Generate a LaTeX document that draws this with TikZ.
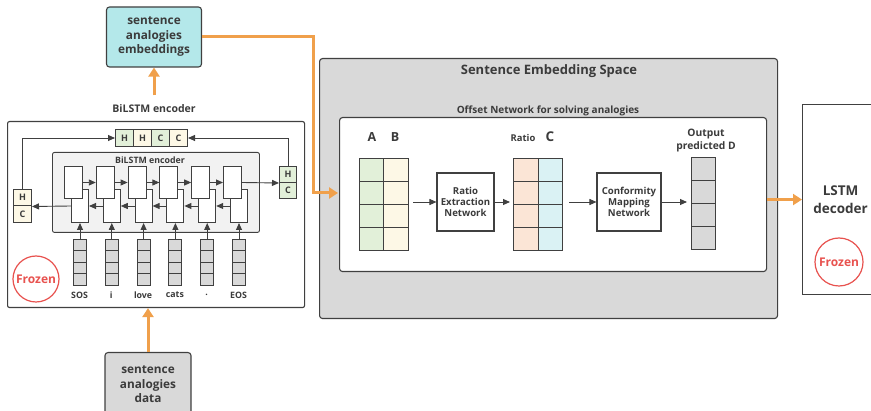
\documentclass[tikz,border=0pt]{standalone}
\usepackage{fontspec}
\setmainfont{Open Sans}
\usetikzlibrary{arrows.meta,calc}
\definecolor{tc}{HTML}{3B3B3B}
\definecolor{bc}{HTML}{404040}
\definecolor{orng}{HTML}{F0A04B}
\definecolor{cyanb}{HTML}{B4E8EA}
\definecolor{grayf}{HTML}{D9D9D9}
\definecolor{igray}{HTML}{F2F2F2}
\definecolor{lgreen}{HTML}{E2F0D9}
\definecolor{cream}{HTML}{FDF8E6}
\definecolor{peach}{HTML}{FBE5D6}
\definecolor{lcyan}{HTML}{DAF2F4}
\definecolor{fred}{HTML}{E8524F}
\newcommand{\fs}[1]{\fontsize{#1}{#1}\selectfont}
\begin{document}
\begin{tikzpicture}[x=1pt,y=-1pt,
  every node/.style={font=\bfseries, text=tc},
  box/.style={draw=bc, line width=1.1pt, inner sep=0pt},
  cell/.style={draw=bc, line width=1pt, fill=white, inner sep=0pt, minimum width=18pt, minimum height=32pt, anchor=north west},
  vc/.style={draw=bc, line width=1pt, inner sep=0pt, minimum height=23pt, anchor=north west},
  arr/.style={draw=bc, line width=0.9pt, -{Triangle[length=7pt,width=6pt]}},
  oarr/.style={draw=orng, line width=3pt, -{Triangle[length=9pt,width=11pt]}},
  frozen/.style={circle, draw=fred, line width=1.2pt, text=fred, inner sep=0pt, minimum size=#1, font=\bfseries\fs{12}},
]
\useasboundingbox (0,0) rectangle (871,411);

% ---------- left BiLSTM encoder ----------
\node[box, fill=white, rounded corners=2pt, minimum width=297pt, minimum height=186pt, anchor=north west] (enc) at (7,121) {};
\node[font=\bfseries\fs{10.5}] (enctitle) at (154,109) {BiLSTM encoder};
\node[box, fill=igray, rounded corners=2pt, minimum width=207pt, minimum height=80pt, anchor=north west, line width=0.9pt] (inner) at (52,152) {};
\node[font=\bfseries\fs{8.8}] (innertitle) at (150,160) {BiLSTM encoder};

\foreach \i in {0,...,5} {
  \node[cell, minimum width=17pt, minimum height=33pt] (b\i) at ({71+31.8*\i},189) {};
}
\foreach \i in {0,...,5} {
  \node[cell] (f\i) at ({64+31.8*\i},166) {};
}
\foreach \i/\j in {0/1,1/2,2/3,3/4,4/5} {
  \draw[arr] (f\i.east) -- (f\j.west);
  \draw[arr] (b\j.west) -- (b\i.east);
}

% H/C states
\node[cell, fill=lgreen, minimum width=17pt, minimum height=16pt] (rH) at (279,166) {\fs{9}H};
\node[cell, fill=lgreen, minimum width=17pt, minimum height=16pt] (rC) at (279,182) {\fs{9}C};
\node[cell, fill=cream, minimum width=18pt, minimum height=16.5pt] (lH) at (13,189) {\fs{9}H};
\node[cell, fill=cream, minimum width=18pt, minimum height=16.5pt] (lC) at (13,205.5) {\fs{9}C};
\node[cell, fill=lgreen, minimum width=18pt, minimum height=17pt] (hh1) at (115,129) {\fs{9}H};
\node[cell, fill=cream, minimum width=18pt, minimum height=17pt] (hh2) at (133,129) {\fs{9}H};
\node[cell, fill=lgreen, minimum width=18pt, minimum height=17pt] (hh3) at (151,129) {\fs{9}C};
\node[cell, fill=cream, minimum width=18pt, minimum height=17pt] (hh4) at (169,129) {\fs{9}C};

\draw[arr] (f5.east) -- (rH.south west);
\draw[arr] (b0.west) -- (lH.south east);
\draw[arr] (lH.north) |- (hh1.west);
\draw[arr] (rH.north) |- (hh4.east);

% input vectors
\foreach \i/\t in {0/SOS,1/i,2/love,3/cats,4/.,5/EOS} {
  \foreach \j in {0,...,3} {
    \node[vc, fill=grayf, minimum width=13pt, minimum height=11.5pt] (v\i\j) at ({73+31.8*\i},{239+11.5*\j}) {};
  }
  \draw[arr] (v\i0.north) -- (b\i.south);
  \node[font=\bfseries\fs{8.8}] (lab\i) at ({79.5+31.8*\i},295) {\t};
}

\node[frozen=46pt] (fz1) at (36,279) {Frozen};

% ---------- top and bottom boxes ----------
\node[box, fill=cyanb, rounded corners=3pt, minimum width=95pt, minimum height=60pt, align=center, font=\bfseries\fontsize{11.8}{14.5}\selectfont] (sae) at (154,37) {sentence\\analogies\\embeddings};
\draw[oarr, shorten <=6pt] (enctitle.north) -- (sae.south);

\node[box, fill=grayf, rounded corners=3pt, anchor=north, minimum width=86pt, minimum height=64pt, align=center, font=\bfseries\fontsize{11.8}{14.5}\selectfont] (sad) at (148,352) {sentence\\analogies\\data};
\draw[oarr] (sad.north) -- (enc.south -| sad.north);

% ---------- Sentence Embedding Space ----------
\node[box, fill=grayf, rounded corners=3pt, anchor=north west, minimum width=458pt, minimum height=260pt] (ses) at (319,58) {};
\node[font=\bfseries\fs{13}] (sestitle) at (549,71) {Sentence Embedding Space};
\node[box, fill=white, rounded corners=3pt, anchor=north west, minimum width=427pt, minimum height=154pt] (offnet) at (339,117) {};
\node[font=\bfseries\fs{10}] (offtitle) at (548,110.5) {Offset Network for solving analogies};

\coordinate (bend) at (313,193);
\draw[oarr, shorten >=1pt] (sae.east) -| (bend) -- (offnet.west |- bend);

\foreach \j in {0,...,3} {
  \node[vc, fill=lgreen, minimum width=24pt] (aa\j) at (359,{158+23*\j}) {};
  \node[vc, fill=cream, minimum width=25pt] (bb\j) at (383,{158+23*\j}) {};
  \node[vc, fill=peach, minimum width=25pt] (ra\j) at (513,{158+23*\j}) {};
  \node[vc, fill=lcyan, minimum width=24pt] (cc\j) at (538,{158+23*\j}) {};
  \node[vc, fill=grayf, minimum width=24pt] (oo\j) at (691,{157+23*\j}) {};
}
\node[font=\bfseries\fs{12.5}] (labA) at (372,137) {A};
\node[font=\bfseries\fs{12.5}] (labB) at (395,137) {B};
\node[font=\bfseries\fs{9.4}] (labR) at (523,138) {Ratio};
\node[font=\bfseries\fs{13.5}] (labC) at (550,137) {C};
\node[font=\bfseries\fontsize{10.3}{13}\selectfont, align=center] (labD) at (706,141) {Output\\predicted D};

\node[box, fill=white, minimum width=57pt, minimum height=58pt, align=center, font=\bfseries\fontsize{9.6}{10.8}\selectfont] (ren) at (465.5,202) {Ratio\\Extraction\\Network};
\node[box, fill=white, minimum width=64pt, minimum height=58pt, align=center, font=\bfseries\fontsize{9.6}{10.8}\selectfont] (cmn) at (629,202) {Conformity\\Mapping\\Network};

\draw[arr, shorten <=4pt] (bb1.east |- ren.west) -- (ren.west);
\draw[arr, shorten >=3pt] (ren.east) -- (ra1.west |- ren.east);
\draw[arr, shorten <=6pt] (cc1.east |- cmn.west) -- (cmn.west);
\draw[arr, shorten >=4pt] (cmn.east) -- (oo1.west |- cmn.east);

% ---------- LSTM decoder ----------
\node[box, fill=white, anchor=north west, minimum width=76pt, minimum height=190pt, align=center, font=\bfseries\fontsize{13.5}{18}\selectfont] (lstm) at (802,104) {LSTM\\decoder};
\node[frozen=48pt] (fz2) at (839,262) {Frozen};
\draw[oarr] (offnet.east |- lstm.west) -- (lstm.west);
\end{tikzpicture}
\end{document}
